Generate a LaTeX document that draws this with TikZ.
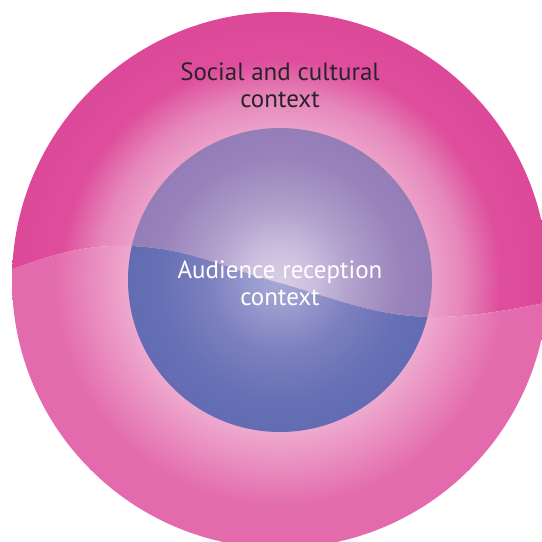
\documentclass[tikz,border=0pt]{standalone}
\usepackage{fontspec}
\setmainfont{PT Sans}
\definecolor{darktxt}{HTML}{2A2228}
\definecolor{ot0}{HTML}{F3BEDA}\definecolor{ot1}{HTML}{ECA2C9}\definecolor{ot2}{HTML}{E687BB}\definecolor{ot3}{HTML}{DE4E9C}\definecolor{ot4}{HTML}{DD4899}
\definecolor{ob0}{HTML}{F3C0DA}\definecolor{ob1}{HTML}{EEAACF}\definecolor{ob2}{HTML}{EA90C0}\definecolor{ob3}{HTML}{E36CAE}\definecolor{ob4}{HTML}{E36AAD}
\definecolor{it0}{HTML}{D8CEE5}\definecolor{it1}{HTML}{CCC0DF}\definecolor{it2}{HTML}{B09FCB}\definecolor{it3}{HTML}{9A83BB}\definecolor{it4}{HTML}{957EB8}
\definecolor{ib0}{HTML}{A6A9D6}\definecolor{ib1}{HTML}{989BCD}\definecolor{ib2}{HTML}{7C7FBE}\definecolor{ib3}{HTML}{6670B5}\definecolor{ib4}{HTML}{636CB2}
\pgfdeclareradialshading{outertop}{\pgfpoint{0bp}{0bp}}{color(0bp)=(ot0); color(14bp)=(ot1); color(17bp)=(ot2); color(20.5bp)=(ot3); color(25bp)=(ot4); color(50bp)=(ot4)}
\pgfdeclareradialshading{outerbot}{\pgfpoint{0bp}{0bp}}{color(0bp)=(ob0); color(14bp)=(ob1); color(17bp)=(ob2); color(21bp)=(ob3); color(25bp)=(ob4); color(50bp)=(ob4)}
\pgfdeclareradialshading{innertop}{\pgfpoint{0bp}{0bp}}{color(0bp)=(it0); color(5bp)=(it1); color(12bp)=(it2); color(20bp)=(it3); color(25bp)=(it4); color(50bp)=(it4)}
\pgfdeclareradialshading{innerbot}{\pgfpoint{0bp}{0bp}}{color(0bp)=(ib0); color(5bp)=(ib1); color(12bp)=(ib2); color(20bp)=(ib3); color(25bp)=(ib4); color(50bp)=(ib4)}
\tikzset{labeltext/.style={align=center, font=\fontsize{25}{27}\selectfont, inner sep=0pt}}
\begin{document}
\begin{tikzpicture}[x=1pt,y=-1pt]
\useasboundingbox (0,0) rectangle (542,542);
\fill[white] (0,0) rectangle (542,542);
\coordinate (c) at (280,280);
\def\wave{(-10,278) .. controls (40,258) and (80,244) .. (130,246) .. controls (190,248) and (230,270) .. (280,283) .. controls (340,300) and (380,318) .. (440,317) .. controls (480,316) and (520,308) .. (580,296)}
\clip (0,0) rectangle (542,542);
% top region
\begin{scope}
\clip \wave -- (580,-10) -- (-10,-10) -- cycle;
\shade[shading=outertop] (c) circle (268);
\shade[shading=innertop] (c) circle (152);
\end{scope}
% bottom region
\begin{scope}
\clip \wave -- (580,580) -- (-10,580) -- cycle;
\shade[shading=outerbot] (c) circle (268);
\shade[shading=innerbot] (c) circle (152);
\end{scope}
\node[labeltext, text=darktxt, anchor=base] (outerlabel) at (280,107) {Social and cultural\\context};
\node[labeltext, text=white, anchor=base] (innerlabel) at (280,305) {Audience reception\\context};
\end{tikzpicture}
\end{document}
